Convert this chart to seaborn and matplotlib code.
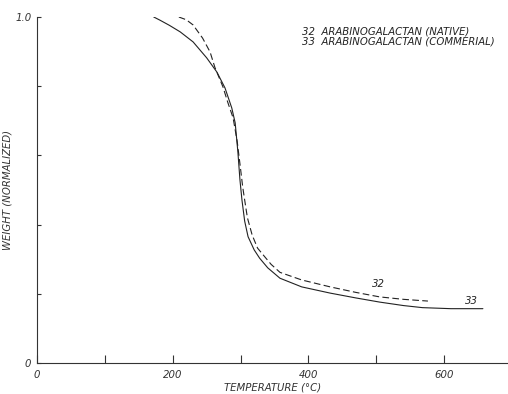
import matplotlib
matplotlib.use("Agg")
import matplotlib.pyplot as plt
import seaborn as sns
import pandas as pd

# Sample 32: Arabinogalactan (native) - dashed
temp_32 = [209, 220, 230, 244, 255, 262, 274, 281, 289, 295, 300, 303, 306, 310, 317, 325,
           336, 345, 358, 390, 432, 470, 505, 540, 576]
weight_32 = [1.0, 0.992, 0.977, 0.939, 0.899, 0.855, 0.798, 0.754, 0.708, 0.640, 0.560, 0.510,
             0.471, 0.420, 0.370, 0.332, 0.306, 0.285, 0.262, 0.240, 0.220, 0.204, 0.191, 0.184, 0.179]

# Sample 33: Arabinogalactan (commercial) - solid
temp_33 = [172, 181, 195, 211, 230, 250, 265, 277, 287, 292, 296, 299, 302, 306, 311, 320, 328,
           340, 358, 390, 432, 470, 505, 540, 568, 610, 657]
weight_33 = [1.0, 0.991, 0.976, 0.957, 0.928, 0.882, 0.841, 0.795, 0.737, 0.694, 0.610, 0.530,
             0.471, 0.410, 0.365, 0.327, 0.303, 0.275, 0.245, 0.220, 0.202, 0.188, 0.176, 0.166,
             0.160, 0.157, 0.157]

legend_lines = ["32  ARABINOGALACTAN (NATIVE)", "33  ARABINOGALACTAN (COMMERIAL)"]
x_ticks = [0, 200, 400, 600]
x_minor = [100, 300, 500]
y_ticks = [0, 1.0]
y_ticklabels = ["0", "1.0"]
y_minor = [0.2, 0.4, 0.6, 0.8]

sns.set_style("white")
plt.rcParams['font.family'] = ['DejaVu Sans']

fig = plt.figure(figsize=(5.08, 3.94), dpi=100)
ax = fig.add_axes([37/508, 1 - 363/394, 1 - 37/508, (363 - 17)/394])

df32 = pd.DataFrame({"T": temp_32, "W": weight_32})
df33 = pd.DataFrame({"T": temp_33, "W": weight_33})
sns.lineplot(data=df33, x="T", y="W", ax=ax, color="#222222", lw=0.8)
sns.lineplot(data=df32, x="T", y="W", ax=ax, color="#222222", lw=0.8,
             linestyle=(0, (6, 3)))

ax.set_xlim(0, 694)
ax.set_ylim(0, 1.0)
for s in ["top", "right"]:
    ax.spines[s].set_visible(False)
for s in ["left", "bottom"]:
    ax.spines[s].set_linewidth(0.8)
    ax.spines[s].set_color("#333333")

fs = 7.3
tc = "#333333"
ax.set_xticks(x_ticks)
ax.set_xticklabels([str(v) for v in x_ticks], fontsize=fs, style="italic", color=tc)
ax.set_xticks(x_minor, minor=True)
ax.set_yticks(y_ticks)
ax.set_yticklabels(y_ticklabels, fontsize=fs, style="italic", color=tc)
ax.set_yticks(y_minor, minor=True)
ax.tick_params(axis="x", which="both", bottom=True, direction="in", length=6, width=0.8,
               color=tc, pad=5)
ax.tick_params(axis="y", which="both", left=True, direction="in", length=3, width=0.8,
               color=tc, pad=4)

ax.set_xlabel("TEMPERATURE (°C)", fontsize=fs, style="italic", color=tc, labelpad=2)
ax.set_ylabel("WEIGHT (NORMALIZED)", fontsize=fs, style="italic", color=tc)
ax.yaxis.set_label_coords(-24/471, 0.5)

ax.text(390, 0.957, legend_lines[0], fontsize=fs, style="italic", color="#222222", va="center", ha="left")
ax.text(390, 0.928, legend_lines[1], fontsize=fs, style="italic", color="#222222", va="center", ha="left")

ax.text(493, 0.214, "32", fontsize=fs, style="italic", color="#222222", va="bottom", ha="left")
ax.text(630, 0.166, "33", fontsize=fs, style="italic", color="#222222", va="bottom", ha="left")

fig.savefig("out.png", dpi=100)
